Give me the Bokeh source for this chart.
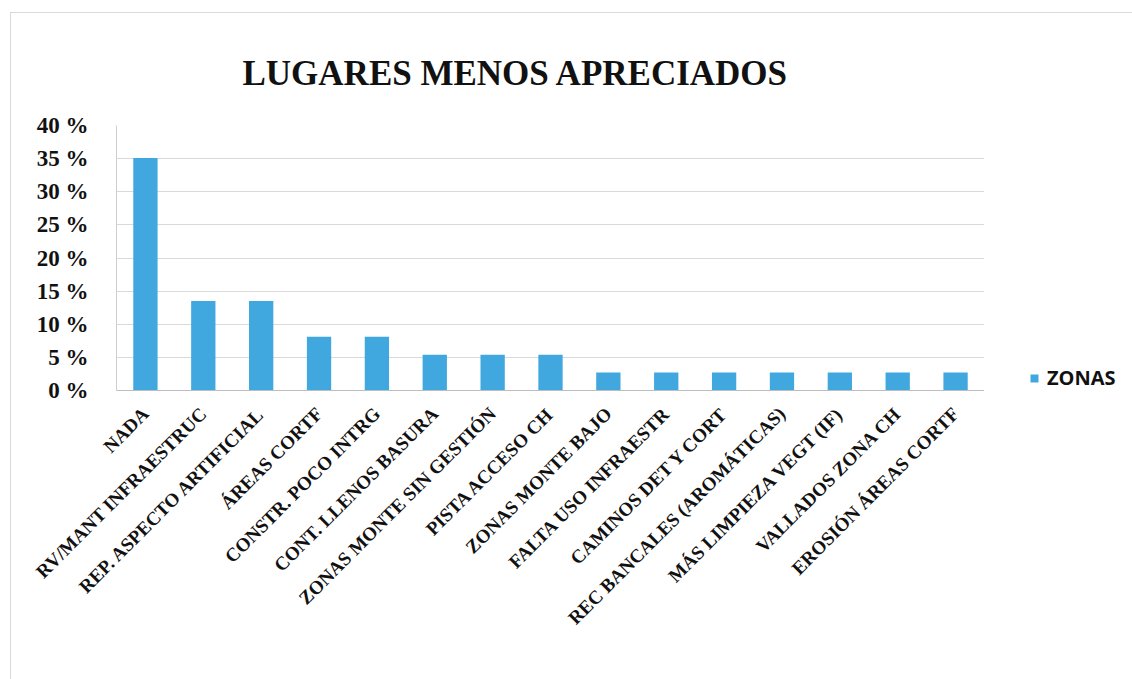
from bokeh.plotting import figure
from bokeh.models import ColumnDataSource, Legend, LegendItem, PrintfTickFormatter, FixedTicker, Title
from bokeh.layouts import row
from bokeh.embed import file_html
from bokeh.resources import INLINE
from math import pi

categories = ["NADA", "RV/MANT INFRAESTRUC", "REP. ASPECTO ARTIFICIAL", "ÁREAS CORTF",
              "CONSTR. POCO INTRG", "CONT. LLENOS BASURA", "ZONAS MONTE SIN GESTIÓN",
              "PISTA ACCESO CH", "ZONAS MONTE BAJO", "FALTA USO INFRAESTR",
              "CAMINOS DET Y CORT", "REC BANCALES (AROMÁTICAS)", "MÁS LIMPIEZA VEGT (IF)",
              "VALLADOS ZONA CH", "EROSIÓN ÁREAS CORTF"]
zonas = [35.1, 13.5, 13.5, 8.1, 8.1, 5.4, 5.4, 5.4, 2.7, 2.7, 2.7, 2.7, 2.7, 2.7, 2.7]
y_ticks = [0, 5, 10, 15, 20, 25, 30, 35, 40]
series_name = "ZONAS"
bar_color = "#40A8DF"

src = ColumnDataSource(dict(cat=categories, v=zonas))

p = figure(x_range=categories, y_range=(0, 40), width=973, height=667,
           output_backend="svg", toolbar_location=None,
           min_border_left=105, min_border_right=0, min_border_top=112, min_border_bottom=290)

r = p.vbar(x="cat", top="v", width=0.42, source=src, fill_color=bar_color, line_color=None)

t = Title(text="LUGARES MENOS APRECIADOS", text_font="Liberation Serif", text_font_size="35px",
          text_font_style="bold", text_color="#111111", align="left", offset=126, standoff=66)
p.add_layout(t, "above")

p.outline_line_color = None
p.background_fill_color = "white"
p.border_fill_color = "white"

p.yaxis.ticker = FixedTicker(ticks=y_ticks)
p.yaxis.formatter = PrintfTickFormatter(format="%d %%")
p.yaxis.major_label_text_font = "Liberation Serif"
p.yaxis.major_label_text_font_style = "bold"
p.yaxis.major_label_text_font_size = "23px"
p.yaxis.major_label_text_color = "#111111"
p.yaxis.major_tick_line_color = None
p.yaxis.minor_tick_line_color = None
p.yaxis.axis_line_color = "#cfcfcf"
p.yaxis.major_label_standoff = 22

p.xaxis.major_label_orientation = pi / 4
p.xaxis.major_label_text_font = "Liberation Serif"
p.xaxis.major_label_text_font_style = "bold"
p.xaxis.major_label_text_font_size = "19px"
p.xaxis.major_label_text_color = "#111111"
p.xaxis.major_tick_line_color = None
p.xaxis.axis_line_color = "#bdbdbd"
p.xaxis.major_label_standoff = 14

p.xgrid.grid_line_color = None
p.ygrid.grid_line_color = "#d9d9d9"
p.ygrid.ticker = FixedTicker(ticks=y_ticks)

# legend panel to the right of the plot area (its frame is aligned with the main one)
p2 = figure(width=149, height=667, x_range=(0, 1), y_range=(0, 1),
            output_backend="svg", toolbar_location=None,
            min_border_left=0, min_border_right=0, min_border_top=112, min_border_bottom=290)
p2.axis.visible = False
p2.grid.grid_line_color = None
p2.outline_line_color = None
p2.border_fill_color = "white"
p2.background_fill_color = "white"
# proxy renderer, lying outside the visible range, that only supplies the legend swatch
r2 = p2.vbar(x=[-10], top=[-5], width=0.5, fill_color=bar_color, line_color=None)
legend = Legend(items=[LegendItem(label=series_name, renderers=[r2])], location=(45, -1),
                label_text_font="Open Sans", label_text_font_style="bold",
                label_text_font_size="20px", label_text_color="#111111",
                border_line_color=None, background_fill_alpha=0, margin=0, padding=0,
                glyph_width=10, glyph_height=10, label_standoff=8)
p2.add_layout(legend, "center")

layout = row(p, p2, spacing=0)
layout.margin = (12, 0, 0, 10)
layout.styles = {"border-top": "1px solid #d9d9d9", "border-left": "1px solid #d9d9d9"}

open("out.html", "w").write(file_html(layout, INLINE))
